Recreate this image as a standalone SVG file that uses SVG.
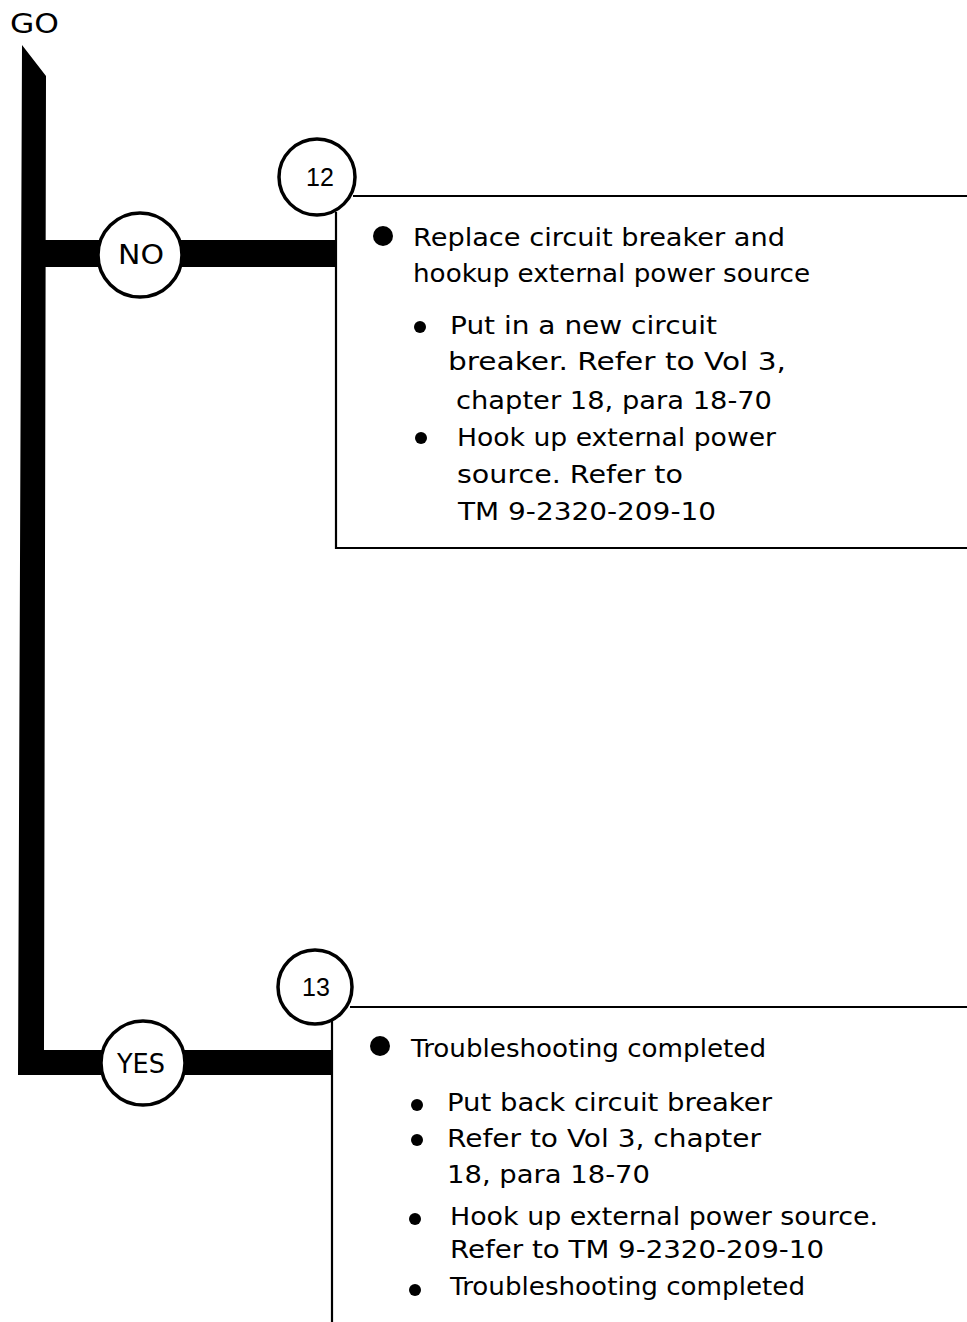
<svg xmlns="http://www.w3.org/2000/svg" width="967" height="1322" viewBox="0 0 967 1322">
<style>
text{font-family:"DejaVu Sans",Verdana,sans-serif;fill:#000}
.t{font-size:24px}
.c{font-size:26px;text-anchor:middle}
.n{font-size:25px;text-anchor:middle;font-family:"Liberation Sans",Arial,sans-serif}
.ring{fill:#fff;stroke:#000;stroke-width:3.5}
.box{fill:none;stroke:#000;stroke-width:2.2}
.bar{fill:#000}
</style>
<rect width="967" height="1322" fill="#fff"/>
<text x="10" y="33" style="font-size:26px" textLength="49" lengthAdjust="spacingAndGlyphs">GO</text>
<g id="connectors">
<polygon class="bar" points="22,45 46,76 44,1050 332,1050 332,1075 18,1075"/>
<rect class="bar" x="44" y="240" width="292" height="27"/>
</g>
<g id="node-no">
<circle class="ring" cx="140" cy="255" r="42"/>
<text class="c" x="141" y="264" textLength="46" lengthAdjust="spacingAndGlyphs">NO</text>
</g>
<g id="node-yes">
<circle class="ring" cx="143" cy="1063" r="42"/>
<text class="c" x="141" y="1073" textLength="48" lengthAdjust="spacingAndGlyphs">YES</text>
</g>
<g id="box12">
<path class="box" d="M353,196 H967 M336,212 V548 H967"/>
<circle class="ring" cx="317" cy="177" r="38"/>
<text class="n" x="320" y="186">12</text>
<circle cx="383" cy="236" r="10"/>
<text class="t" x="413" y="246" textLength="372" lengthAdjust="spacingAndGlyphs">Replace circuit breaker and</text>
<text class="t" x="413" y="282" textLength="397" lengthAdjust="spacingAndGlyphs">hookup external power source</text>
<circle cx="420" cy="327" r="6"/>
<text class="t" x="450" y="334" textLength="267" lengthAdjust="spacingAndGlyphs">Put in a new circuit</text>
<text class="t" x="448" y="370" textLength="338" lengthAdjust="spacingAndGlyphs">breaker.  Refer to Vol 3,</text>
<text class="t" x="456" y="409" textLength="316" lengthAdjust="spacingAndGlyphs">chapter 18, para 18-70</text>
<circle cx="421" cy="438" r="6"/>
<text class="t" x="457" y="446" textLength="319" lengthAdjust="spacingAndGlyphs">Hook up external power</text>
<text class="t" x="457" y="483" textLength="226" lengthAdjust="spacingAndGlyphs">source.  Refer to</text>
<text class="t" x="458" y="520" textLength="258" lengthAdjust="spacingAndGlyphs">TM 9-2320-209-10</text>
</g>
<g id="box13">
<path class="box" d="M350,1007 H967 M332,1020 V1322"/>
<circle class="ring" cx="315" cy="987" r="37"/>
<text class="n" x="316" y="996">13</text>
<circle cx="380" cy="1046" r="10"/>
<text class="t" x="411" y="1057" textLength="355" lengthAdjust="spacingAndGlyphs">Troubleshooting completed</text>
<circle cx="417" cy="1105" r="6"/>
<text class="t" x="447" y="1111" textLength="325" lengthAdjust="spacingAndGlyphs">Put back circuit breaker</text>
<circle cx="417" cy="1140" r="6"/>
<text class="t" x="447" y="1147" textLength="314" lengthAdjust="spacingAndGlyphs">Refer to Vol 3, chapter</text>
<text class="t" x="447" y="1183" textLength="203" lengthAdjust="spacingAndGlyphs">18, para 18-70</text>
<circle cx="415" cy="1219" r="6"/>
<text class="t" x="450" y="1225" textLength="428" lengthAdjust="spacingAndGlyphs">Hook up external power source.</text>
<text class="t" x="450" y="1258" textLength="374" lengthAdjust="spacingAndGlyphs">Refer to TM 9-2320-209-10</text>
<circle cx="415" cy="1290" r="6"/>
<text class="t" x="450" y="1295" textLength="355" lengthAdjust="spacingAndGlyphs">Troubleshooting completed</text>
</g>
</svg>
